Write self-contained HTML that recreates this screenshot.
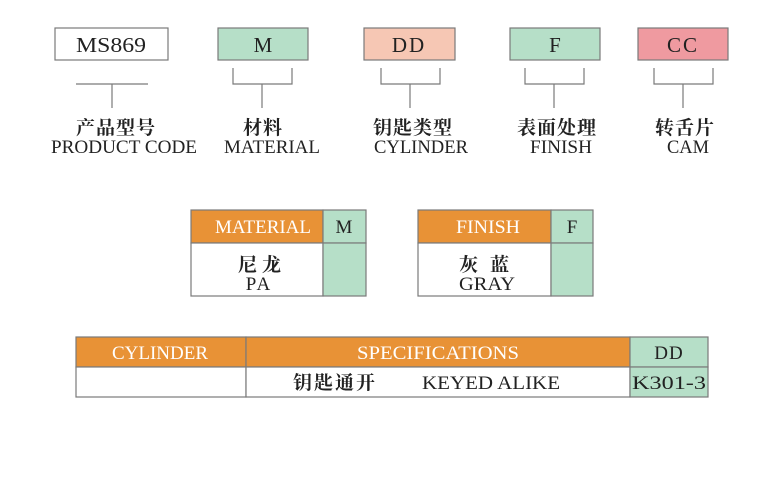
<!DOCTYPE html>
<html><head><meta charset="utf-8"><style>
html,body{margin:0;padding:0;background:#fff;}
svg{display:block}
text{font-family:"Liberation Serif","Noto Serif CJK SC","Noto Sans CJK SC",serif;fill:#222;}
</style></head><body>
<svg width="778" height="500" viewBox="0 0 778 500" xmlns="http://www.w3.org/2000/svg">
<g stroke="#7a7a7a" stroke-width="1.2">
<rect x="55" y="28" width="113" height="32" fill="#fff"/>
<rect x="218" y="28" width="90" height="32" fill="#b6dfc8"/>
<rect x="364" y="28" width="91" height="32" fill="#f6c7b4"/>
<rect x="510" y="28" width="90" height="32" fill="#b6dfc8"/>
<rect x="638" y="28" width="90" height="32" fill="#ef9aa0"/>
<g fill="none">
<path d="M76 84H148M112 84V108"/>
<path d="M233 68V84H292V68M262 84V108"/>
<path d="M381 68V84H440V68M410 84V108"/>
<path d="M525 68V84H584V68M554 84V108"/>
<path d="M654 68V84H713V68M683 84V108"/>
</g>
</g>
<g font-size="21" text-anchor="middle">
<text x="111" y="52" textLength="70" lengthAdjust="spacingAndGlyphs">MS869</text>
<text x="263" y="52">M</text>
<text x="409" y="52" letter-spacing="2">DD</text>
<text x="555" y="52">F</text>
<text x="683" y="52" letter-spacing="2">CC</text>
</g>
<g font-size="19" text-anchor="middle" font-weight="bold">
<text x="116" y="134" letter-spacing="1">产品型号</text>
<text x="263" y="134" letter-spacing="1">材料</text>
<text x="413" y="134" letter-spacing="1">钥匙类型</text>
<text x="557" y="134" letter-spacing="1">表面处理</text>
<text x="685" y="134" letter-spacing="1">转舌片</text>
</g>
<g font-size="19" text-anchor="middle">
<text x="124" y="153" textLength="146" lengthAdjust="spacingAndGlyphs">PRODUCT CODE</text>
<text x="272" y="153" textLength="96" lengthAdjust="spacingAndGlyphs">MATERIAL</text>
<text x="421" y="153" textLength="94" lengthAdjust="spacingAndGlyphs">CYLINDER</text>
<text x="561" y="153" textLength="62" lengthAdjust="spacingAndGlyphs">FINISH</text>
<text x="688" y="153" textLength="42" lengthAdjust="spacingAndGlyphs">CAM</text>
</g>
<g stroke="#7a7a7a" stroke-width="1.2">
<rect x="191" y="210" width="132" height="33" fill="#e89236"/>
<rect x="323" y="210" width="43" height="33" fill="#b6dfc8"/>
<rect x="191" y="243" width="132" height="53" fill="#fff"/>
<rect x="323" y="243" width="43" height="53" fill="#b6dfc8"/>
<rect x="418" y="210" width="133" height="33" fill="#e89236"/>
<rect x="551" y="210" width="42" height="33" fill="#b6dfc8"/>
<rect x="418" y="243" width="133" height="53" fill="#fff"/>
<rect x="551" y="243" width="42" height="53" fill="#b6dfc8"/>
<rect x="76" y="337" width="170" height="30" fill="#e89236"/>
<rect x="246" y="337" width="384" height="30" fill="#e89236"/>
<rect x="630" y="337" width="78" height="30" fill="#b6dfc8"/>
<rect x="76" y="367" width="170" height="30" fill="#fff"/>
<rect x="246" y="367" width="384" height="30" fill="#fff"/>
<rect x="630" y="367" width="78" height="30" fill="#b6dfc8"/>
</g>
<g font-size="19" text-anchor="middle">
<text x="263" y="233" textLength="96" lengthAdjust="spacingAndGlyphs" style="fill:#fff">MATERIAL</text>
<text x="344" y="233">M</text>
<text x="262" y="271" letter-spacing="5" font-weight="bold">尼龙</text>
<text x="259" y="290" letter-spacing="2">PA</text>
<text x="488" y="233" textLength="64" lengthAdjust="spacingAndGlyphs" style="fill:#fff">FINISH</text>
<text x="572" y="233">F</text>
<text x="490" y="271" letter-spacing="12" font-weight="bold">灰蓝</text>
<text x="487" y="290" textLength="56" lengthAdjust="spacingAndGlyphs">GRAY</text>
<text x="160" y="359" textLength="96" lengthAdjust="spacingAndGlyphs" style="fill:#fff">CYLINDER</text>
<text x="438" y="359" textLength="162" lengthAdjust="spacingAndGlyphs" style="fill:#fff">SPECIFICATIONS</text>
<text x="669" y="359" letter-spacing="1">DD</text>
<text x="335" y="389" letter-spacing="2" font-weight="bold">钥匙通开</text>
<text x="491" y="389" textLength="138" lengthAdjust="spacingAndGlyphs">KEYED ALIKE</text>
<text x="669" y="389" textLength="74" lengthAdjust="spacingAndGlyphs">K301-3</text>
</g>
</svg>
</body></html>
